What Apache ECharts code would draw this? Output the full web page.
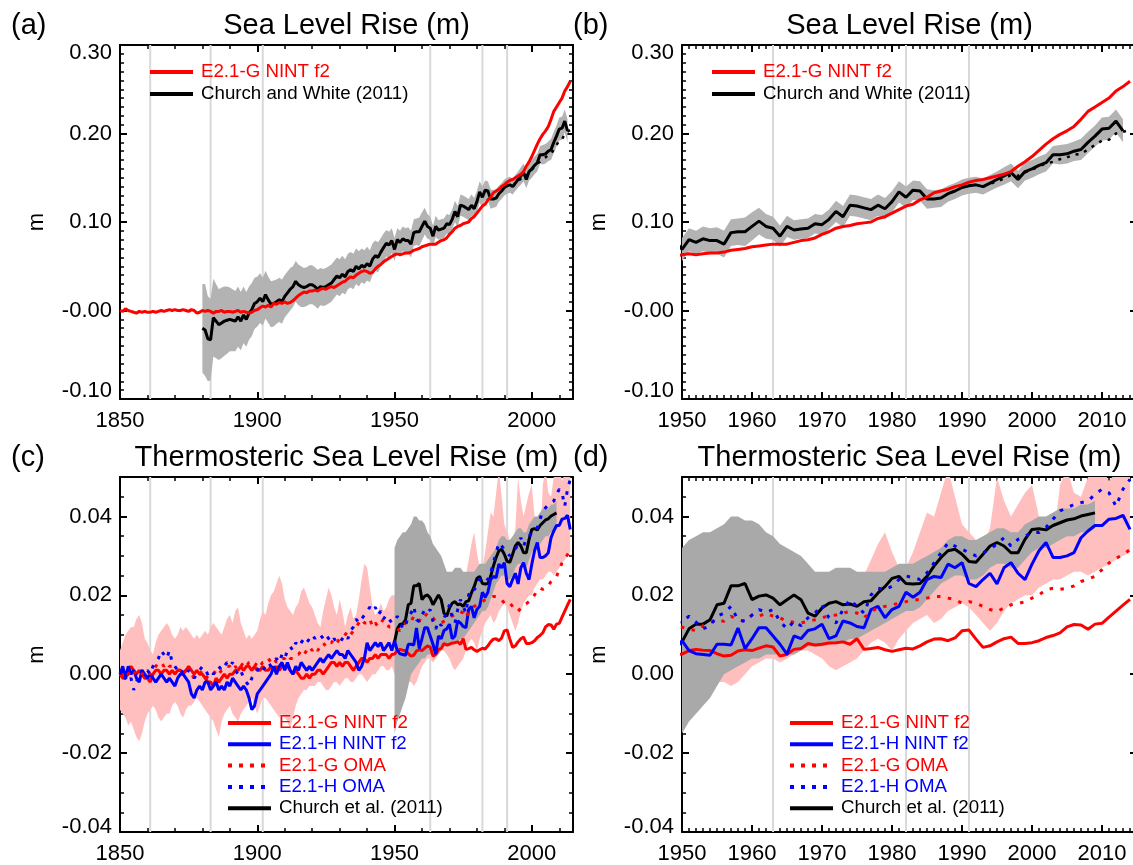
<!DOCTYPE html>
<html><head><meta charset="utf-8">
<script src="https://cdn.jsdelivr.net/npm/echarts@6/dist/echarts.min.js"></script>
<style>html,body{margin:0;padding:0;background:#fff}#c{width:1133px;height:865px}</style>
</head><body><div id="c"></div>
<script>
// ---------------- DATA ----------------
// Sea level, E2.1-G NINT f2, annual 1850-2014 (m)
const slModelStart = 1850;
const slModel = [
 0.000,-0.001,0.002,0.000,-0.001,-0.002,-0.003,-0.001,-0.002,-0.001,
 -0.002,-0.002,-0.001,-0.002,-0.001,0.000,-0.001,0.000,0.001,0.000,
 0.001,0.000,0.000,0.001,0.000,-0.001,0.001,0.000,-0.003,-0.002,
 0.000,-0.001,0.000,-0.001,-0.003,-0.001,-0.001,0.000,-0.002,-0.001,
 -0.001,-0.002,-0.001,0.000,-0.002,-0.001,-0.002,-0.003,-0.002,0.000,
 0.001,0.003,0.005,0.004,0.006,0.004,0.008,0.007,0.009,0.008,
 0.010,0.008,0.009,0.011,0.014,0.017,0.019,0.021,0.020,0.022,
 0.022,0.023,0.022,0.024,0.025,0.024,0.026,0.027,0.026,0.028,
 0.030,0.032,0.033,0.036,0.038,0.037,0.040,0.042,0.044,0.045,
 0.044,0.042,0.043,0.047,0.050,0.052,0.055,0.057,0.059,0.061,
 0.063,0.064,0.063,0.064,0.065,0.065,0.066,0.068,0.069,0.070,
 0.072,0.073,0.074,0.075,0.075,0.075,0.077,0.079,0.080,0.082,
 0.086,0.089,0.093,0.095,0.096,0.098,0.099,0.100,0.104,0.106,
 0.110,0.114,0.118,0.120,0.125,0.128,0.133,0.135,0.137,0.140,
 0.142,0.145,0.147,0.148,0.150,0.152,0.154,0.157,0.163,0.168,
 0.174,0.181,0.188,0.194,0.199,0.203,0.208,0.216,0.225,0.230,
 0.235,0.240,0.248,0.253,0.259
];
// Church and White (2011), annual 1880-2013 (m) and its uncertainty half-width
const slChurchStart = 1880;
const slChurch = [
 -0.020,-0.022,-0.032,-0.033,-0.008,-0.012,-0.016,-0.014,-0.012,-0.011,
 -0.010,-0.011,-0.012,-0.007,-0.012,-0.005,-0.010,-0.003,0.001,0.008,
 0.010,0.014,0.010,0.018,0.012,0.007,0.008,0.010,0.012,0.010,
 0.016,0.020,0.024,0.027,0.033,0.029,0.027,0.026,0.027,0.029,
 0.029,0.027,0.024,0.027,0.026,0.027,0.029,0.031,0.035,0.039,
 0.037,0.041,0.038,0.044,0.046,0.044,0.050,0.047,0.051,0.049,
 0.053,0.050,0.058,0.062,0.060,0.066,0.071,0.076,0.074,0.079,
 0.069,0.080,0.077,0.081,0.079,0.079,0.075,0.088,0.089,0.089,
 0.095,0.101,0.095,0.093,0.084,0.095,0.091,0.092,0.093,0.098,
 0.097,0.103,0.112,0.106,0.119,0.118,0.116,0.114,0.119,0.115,
 0.123,0.134,0.128,0.136,0.135,0.126,0.126,0.127,0.132,0.135,
 0.139,0.141,0.142,0.140,0.144,0.148,0.152,0.156,0.148,0.157,
 0.160,0.164,0.167,0.176,0.176,0.177,0.180,0.182,0.190,0.197,
 0.205,0.206,0.214,0.203
];
const slChurchErr = [
 0.050,0.052,0.048,0.046,0.044,0.042,0.040,0.040,0.039,0.038,
 0.036,0.035,0.034,0.034,0.033,0.032,0.031,0.030,0.030,0.029,
 0.028,0.028,0.027,0.027,0.026,0.026,0.026,0.025,0.025,0.025,
 0.024,0.024,0.024,0.023,0.023,0.023,0.023,0.022,0.022,0.022,
 0.022,0.022,0.022,0.021,0.021,0.021,0.021,0.021,0.021,0.021,
 0.021,0.021,0.020,0.020,0.020,0.020,0.020,0.020,0.019,0.019,
 0.019,0.018,0.018,0.017,0.017,0.016,0.016,0.015,0.015,0.014,
 0.013,0.013,0.013,0.014,0.014,0.015,0.015,0.015,0.015,0.016,
 0.016,0.015,0.014,0.013,0.012,0.012,0.011,0.011,0.011,0.011,
 0.011,0.011,0.012,0.012,0.012,0.012,0.012,0.012,0.012,0.012,
 0.012,0.012,0.012,0.011,0.011,0.011,0.010,0.010,0.009,0.009,
 0.009,0.009,0.009,0.009,0.009,0.009,0.010,0.010,0.010,0.010,
 0.010,0.010,0.010,0.010,0.011,0.011,0.011,0.012,0.012,0.012,
 0.013,0.013,0.013,0.013
];
// dotted black (altimetry era) 1993-2014
const slAltStart = 1993;
const slAlt = [0.140,0.143,0.146,0.149,0.153,0.152,0.156,0.159,0.163,0.166,0.168,
 0.171,0.173,0.176,0.177,0.182,0.187,0.192,0.193,0.200,0.202,0.204];

// Thermosteric sea level, annual 1850-2014 (m)
const thStart = 1850;
const thGNint = [
 0.000,-0.001,-0.001,0.001,0.002,0.001,0.000,0.001,0.000,-0.001,
 -0.001,-0.002,0.000,0.001,0.001,0.000,0.001,0.001,0.000,0.001,
 0.000,0.001,0.001,0.000,0.001,0.002,0.001,0.000,0.001,0.000,
 0.000,-0.001,-0.002,-0.002,-0.003,-0.001,-0.002,-0.001,0.000,-0.001,
 0.000,0.000,0.001,0.001,0.002,0.001,0.002,0.002,0.001,0.002,
 0.001,0.001,0.002,0.001,0.001,0.002,0.001,0.002,0.001,0.002,
 0.002,0.002,0.001,0.000,0.001,0.000,-0.001,-0.001,0.000,-0.001,
 0.000,0.000,0.001,0.001,0.000,0.001,0.002,0.003,0.003,0.002,
 0.003,0.002,0.003,0.003,0.002,0.001,0.002,0.003,0.004,0.004,
 0.003,0.004,0.004,0.005,0.004,0.005,0.005,0.005,0.004,0.005,
 0.0051,0.006,0.0063,0.0061,0.006,0.0052,0.0046,0.0048,0.0059,0.0062,
 0.006,0.0066,0.0072,0.0069,0.0046,0.005,0.0063,0.0065,0.0078,0.0074,
 0.0076,0.0079,0.008,0.0082,0.0076,0.009,0.0063,0.0065,0.0068,0.0062,
 0.0058,0.0062,0.0066,0.0064,0.0072,0.0082,0.0089,0.009,0.0085,0.0092,
 0.011,0.0112,0.0089,0.0068,0.0072,0.0082,0.009,0.0094,0.0078,0.0078,
 0.008,0.0085,0.0093,0.0098,0.0105,0.012,0.0126,0.0125,0.0114,0.0127,
 0.0129,0.0145,0.016,0.0175,0.019
];
const thHNint = [
 0.000,0.002,-0.001,0.002,0.000,0.001,-0.001,-0.002,0.001,0.000,
 -0.001,0.000,-0.001,-0.002,-0.001,0.000,-0.001,-0.002,-0.001,-0.002,
 -0.003,-0.001,0.000,0.000,-0.001,-0.002,-0.005,-0.006,-0.004,-0.003,
 -0.004,-0.002,-0.002,-0.004,-0.003,-0.002,-0.004,-0.003,-0.004,-0.002,
 -0.003,-0.001,-0.002,-0.003,-0.004,-0.003,-0.004,-0.006,-0.009,-0.008,
 -0.005,-0.004,-0.003,-0.002,-0.001,0.000,0.002,0.000,0.002,0.003,
 0.001,0.003,0.001,0.000,0.002,0.001,0.003,0.002,0.001,0.002,
 0.001,0.002,0.003,0.004,0.003,0.004,0.005,0.004,0.005,0.006,
 0.005,0.005,0.004,0.006,0.005,0.004,0.003,0.001,0.002,0.004,
 0.008,0.006,0.007,0.008,0.007,0.008,0.006,0.007,0.008,0.006,
 0.0085,0.006,0.0052,0.005,0.0048,0.0076,0.0076,0.0074,0.0117,0.0065,
 0.009,0.0118,0.0118,0.0097,0.0076,0.0051,0.0097,0.009,0.0111,0.0115,
 0.0127,0.009,0.0097,0.0135,0.013,0.0121,0.0118,0.0164,0.0172,0.0143,
 0.0164,0.0172,0.0208,0.0195,0.0208,0.024,0.0248,0.0245,0.0279,0.027,
 0.0283,0.023,0.0222,0.024,0.0256,0.0229,0.027,0.0283,0.0256,0.024,
 0.0279,0.0313,0.0334,0.0296,0.0296,0.03,0.0308,0.0346,0.0363,0.0377,
 0.0377,0.0393,0.0395,0.0403,0.0367
];
const thGOma = [
 0.000,0.000,-0.001,0.000,0.001,0.000,0.001,0.001,0.000,0.001,
 0.001,0.000,0.001,0.002,0.003,0.003,0.002,0.003,0.002,0.002,
 0.002,0.001,0.001,0.000,0.001,0.000,0.000,-0.001,0.000,0.000,
 0.001,0.000,-0.001,-0.001,0.000,0.001,0.000,0.001,0.001,0.002,
 0.002,0.001,0.002,0.001,0.002,0.003,0.002,0.003,0.003,0.002,
 0.003,0.002,0.003,0.003,0.004,0.003,0.004,0.003,0.004,0.004,
 0.004,0.005,0.004,0.004,0.005,0.005,0.006,0.005,0.006,0.007,
 0.006,0.007,0.006,0.007,0.008,0.007,0.008,0.008,0.009,0.008,
 0.009,0.009,0.010,0.011,0.010,0.011,0.012,0.013,0.014,0.013,
 0.013,0.014,0.012,0.013,0.012,0.013,0.014,0.013,0.012,0.012,
 0.0119,0.0115,0.011,0.0123,0.013,0.0138,0.0134,0.0147,0.0138,0.0134,
 0.015,0.0147,0.0155,0.0147,0.0143,0.0134,0.0132,0.013,0.0134,0.0138,
 0.0143,0.0148,0.015,0.0155,0.0159,0.0155,0.0143,0.0159,0.0168,0.0172,
 0.0176,0.018,0.0184,0.0189,0.0189,0.0193,0.0197,0.0197,0.0193,0.0189,
 0.018,0.0184,0.018,0.0172,0.0164,0.0159,0.0168,0.0176,0.0179,0.0184,
 0.0193,0.0201,0.0214,0.0218,0.0215,0.0218,0.0224,0.0235,0.0241,0.0248,
 0.0265,0.0282,0.0294,0.0303,0.0316
];
const thHOma = [
 0.000,0.001,-0.001,-0.002,-0.001,-0.004,-0.002,0.000,0.001,0.000,
 0.001,0.000,0.002,0.003,0.004,0.006,0.005,0.004,0.006,0.003,
 0.002,0.001,0.000,0.001,0.000,0.001,0.000,-0.001,0.000,0.001,
 0.002,0.001,0.000,0.001,0.000,0.001,0.002,0.001,0.002,0.003,
 0.002,0.003,0.001,0.000,0.001,-0.001,-0.002,-0.003,-0.001,0.000,
 0.001,0.002,0.001,0.002,0.003,0.002,0.003,0.004,0.003,0.005,
 0.004,0.006,0.007,0.006,0.008,0.007,0.008,0.009,0.008,0.009,
 0.010,0.009,0.010,0.010,0.009,0.010,0.009,0.008,0.009,0.008,
 0.008,0.009,0.010,0.009,0.011,0.012,0.014,0.013,0.014,0.015,
 0.016,0.017,0.016,0.017,0.015,0.016,0.014,0.015,0.014,0.013,
 0.0134,0.0147,0.0132,0.0115,0.0123,0.0147,0.0155,0.0172,0.0138,0.0134,
 0.015,0.0164,0.0157,0.0164,0.0134,0.0115,0.0134,0.0123,0.0143,0.0155,
 0.0176,0.0143,0.013,0.0164,0.0189,0.0172,0.0155,0.0201,0.0218,0.0214,
 0.0223,0.024,0.0249,0.0245,0.024,0.0257,0.0282,0.0308,0.0333,0.0325,
 0.0317,0.0308,0.03,0.0308,0.0317,0.033,0.0346,0.0325,0.0342,0.035,
 0.0359,0.0359,0.0372,0.0393,0.0414,0.0422,0.043,0.0435,0.0439,0.0456,
 0.0469,0.046,0.0426,0.0469,0.0494
];
// model spread (pink band) 1850-2014
const thSpreadHi = [
 0.006,0.008,0.010,0.011,0.012,0.012,0.014,0.015,0.013,0.009,
 0.008,0.006,0.005,0.008,0.010,0.011,0.012,0.013,0.012,0.010,
 0.009,0.010,0.012,0.011,0.012,0.011,0.010,0.009,0.010,0.009,
 0.010,0.011,0.010,0.012,0.013,0.012,0.011,0.010,0.012,0.014,
 0.015,0.013,0.016,0.017,0.013,0.011,0.009,0.010,0.009,0.010,
 0.011,0.014,0.016,0.015,0.018,0.020,0.021,0.023,0.025,0.023,
 0.019,0.017,0.016,0.015,0.017,0.018,0.021,0.022,0.020,0.018,
 0.017,0.015,0.013,0.012,0.016,0.019,0.022,0.020,0.017,0.015,
 0.019,0.016,0.012,0.015,0.017,0.014,0.015,0.019,0.024,0.028,
 0.027,0.022,0.017,0.015,0.016,0.018,0.016,0.017,0.019,0.020,
 0.020,0.021,0.022,0.022,0.023,0.022,0.024,0.025,0.024,0.025,
 0.025,0.023,0.022,0.021,0.020,0.021,0.023,0.025,0.027,0.026,
 0.024,0.022,0.021,0.022,0.023,0.024,0.025,0.029,0.033,0.036,
 0.031,0.027,0.027,0.031,0.036,0.041,0.040,0.046,0.052,0.045,
 0.038,0.036,0.034,0.033,0.037,0.050,0.044,0.040,0.043,0.046,
 0.048,0.040,0.035,0.033,0.048,0.052,0.046,0.045,0.050,0.053,
 0.052,0.049,0.051,0.054,0.052
];
const thSpreadLo = [
 -0.009,-0.010,-0.011,-0.013,-0.012,-0.014,-0.016,-0.017,-0.015,-0.012,
 -0.010,-0.009,-0.008,-0.009,-0.011,-0.012,-0.011,-0.010,-0.010,-0.008,
 -0.007,-0.008,-0.010,-0.011,-0.009,-0.008,-0.008,-0.007,-0.006,-0.007,
 -0.008,-0.009,-0.010,-0.011,-0.012,-0.014,-0.016,-0.012,-0.010,-0.009,
 -0.008,-0.010,-0.011,-0.012,-0.010,-0.009,-0.008,-0.007,-0.006,-0.008,
 -0.010,-0.008,-0.006,-0.006,-0.007,-0.008,-0.009,-0.010,-0.011,-0.010,
 -0.011,-0.012,-0.014,-0.011,-0.008,-0.006,-0.005,-0.004,-0.004,-0.003,
 -0.003,-0.003,-0.002,-0.002,-0.003,-0.004,-0.004,-0.003,-0.002,-0.002,
 -0.003,-0.002,-0.001,-0.001,-0.002,-0.002,-0.001,0.000,0.000,-0.001,
 -0.002,-0.001,0.000,0.000,0.001,0.002,0.002,0.001,0.001,0.002,
 0.000,-0.001,-0.002,-0.002,-0.002,-0.002,-0.002,-0.003,-0.002,0.000,
 0.002,0.003,0.004,0.004,0.003,0.004,0.005,0.006,0.006,0.005,
 0.004,0.002,0.001,0.002,0.003,0.004,0.006,0.008,0.009,0.008,
 0.006,0.009,0.011,0.013,0.014,0.015,0.013,0.014,0.016,0.017,
 0.018,0.017,0.015,0.013,0.011,0.013,0.016,0.018,0.019,0.020,
 0.020,0.022,0.023,0.024,0.024,0.025,0.026,0.026,0.025,0.026,
 0.027,0.028,0.029,0.030,0.031
];
// Church et al. (2011) thermosteric 1950-2009 with band
const thChurchStart = 1950;
const thChurch = [
 0.0082,0.0115,0.0127,0.0127,0.0138,0.0176,0.018,0.0224,0.0224,0.023,
 0.0189,0.0198,0.0201,0.0193,0.0176,0.0189,0.0201,0.0189,0.0155,0.0147,
 0.0168,0.018,0.0184,0.0176,0.0178,0.0172,0.0184,0.0186,0.0206,0.0222,
 0.0243,0.0248,0.023,0.0229,0.023,0.0248,0.0274,0.0296,0.0313,0.0317,
 0.0304,0.0286,0.0284,0.0304,0.0325,0.0334,0.0325,0.0308,0.0308,0.0342,
 0.0367,0.0369,0.0366,0.0377,0.0384,0.0391,0.0394,0.0401,0.0405,0.0409
];
const thChurchHi = [
 0.032,0.034,0.035,0.036,0.036,0.037,0.038,0.040,0.040,0.039,
 0.039,0.038,0.036,0.035,0.033,0.032,0.031,0.030,0.028,0.026,
 0.026,0.026,0.027,0.027,0.027,0.026,0.026,0.026,0.026,0.026,
 0.027,0.028,0.028,0.028,0.029,0.030,0.031,0.032,0.034,0.035,
 0.035,0.034,0.034,0.035,0.036,0.037,0.037,0.036,0.036,0.038,
 0.039,0.040,0.040,0.041,0.042,0.042,0.042,0.043,0.043,0.044
];
const thChurchLo = [
 -0.015,-0.012,-0.010,-0.008,-0.006,-0.003,0.000,0.001,0.002,0.003,
 0.004,0.004,0.005,0.005,0.005,0.005,0.005,0.006,0.007,0.007,
 0.007,0.008,0.008,0.008,0.009,0.009,0.010,0.011,0.012,0.013,
 0.014,0.015,0.016,0.016,0.017,0.019,0.021,0.023,0.024,0.025,
 0.025,0.024,0.024,0.025,0.027,0.028,0.028,0.027,0.027,0.029,
 0.031,0.032,0.032,0.033,0.034,0.035,0.035,0.036,0.036,0.037
];
// volcanic eruption years (light grey verticals)
const volcanoYears = [1861, 1883, 1902, 1963, 1982, 1991];
// tick labels
const slYLabels = ['-0.10', '-0.00', '0.10', '0.20', '0.30'];
const thYLabels = ['-0.04', '-0.02', '0.00', '0.02', '0.04'];
const xLabelsLong = ['1850', '1900', '1950', '2000'];
const xLabelsShort = ['1950', '1960', '1970', '1980', '1990', '2000', '2010'];
const titles = ['Sea Level Rise (m)', 'Sea Level Rise (m)', 'Thermosteric Sea Level Rise (m)', 'Thermosteric Sea Level Rise (m)'];
const panelTags = ['(a)', '(b)', '(c)', '(d)'];
const legendSL = [
  {name: 'E2.1-G NINT f2', color: '#ff0000', dash: null},
  {name: 'Church and White (2011)', color: '#000000', dash: null}
];
const legendTH = [
  {name: 'E2.1-G NINT f2', color: '#ff0000', dash: null},
  {name: 'E2.1-H NINT f2', color: '#0000ff', dash: null},
  {name: 'E2.1-G OMA', color: '#ff0000', dash: [4, 7]},
  {name: 'E2.1-H OMA', color: '#0000ff', dash: [4, 7]},
  {name: 'Church et al. (2011)', color: '#000000', dash: null}
];

// ---------------- CHART ----------------
const FONT = 'Liberation Sans, Arial, Helvetica, sans-serif';
const toPairs = (start, arr) => arr.map((v, i) => [start + i, v]);

const panels = [
  {grid: {left: 120, top: 45, width: 453, height: 354}, xmin: 1850, xmax: 2015, xint: 50, xminor: 5, xlabels: xLabelsLong,
   ymin: -0.1, ymax: 0.3, yint: 0.1, yminor: 10, ylabels: slYLabels, topPad: 16, botPad: 16, kind: 'sl'},
  {grid: {left: 682, top: 45, width: 455, height: 354}, xmin: 1950, xmax: 2015, xint: 10, xminor: 10, xlabels: xLabelsShort,
   ymin: -0.1, ymax: 0.3, yint: 0.1, yminor: 10, ylabels: slYLabels, topPad: 16, botPad: 16, kind: 'sl'},
  {grid: {left: 120, top: 477, width: 453, height: 355}, xmin: 1850, xmax: 2015, xint: 50, xminor: 5, xlabels: xLabelsLong,
   ymin: -0.04, ymax: 0.05, yint: 0.02, yminor: 4, ylabels: thYLabels, topPad: 0, botPad: 10, kind: 'th'},
  {grid: {left: 682, top: 477, width: 455, height: 355}, xmin: 1950, xmax: 2015, xint: 10, xminor: 10, xlabels: xLabelsShort,
   ymin: -0.04, ymax: 0.05, yint: 0.02, yminor: 4, ylabels: thYLabels, topPad: 0, botPad: 10, kind: 'th'}
];

function labelAt(v, min, interval, arr) {
  const idx = Math.round((v - min) / interval);
  if (Math.abs(min + idx * interval - v) > interval * 1e-6) return '';
  return arr[idx] !== undefined ? arr[idx] : '';
}

const grids = [], xAxes = [], yAxes = [], series = [], graphics = [];
const axisLineStyle = {color: '#000', width: 2};

panels.forEach((p, g) => {
  grids.push(Object.assign({outerBoundsMode: 'none', containLabel: false}, p.grid));
  ['bottom', 'top'].forEach((pos, k) => {
    xAxes.push({
      type: 'value', gridIndex: g, position: pos, min: p.xmin, max: p.xmax, interval: p.xint,
      axisLine: {show: true, onZero: false, lineStyle: axisLineStyle},
      axisTick: {show: true, inside: true, length: 7, lineStyle: {color: '#000', width: 2}},
      minorTick: {show: true, splitNumber: p.xminor, length: 4, lineStyle: {color: '#000', width: 1.5}},
      splitLine: {show: false}, minorSplitLine: {show: false},
      axisLabel: {show: k === 0, color: '#000', fontSize: 22, fontFamily: FONT, margin: 11,
        showMinLabel: true, showMaxLabel: true, hideOverlap: false,
        formatter: v => labelAt(v, p.xmin, p.xint, p.xlabels)}
    });
  });
  ['left', 'right'].forEach((pos, k) => {
    yAxes.push({
      type: 'value', gridIndex: g, position: pos, min: p.ymin, max: p.ymax, interval: p.yint,
      axisLine: {show: true, onZero: false, lineStyle: axisLineStyle},
      axisTick: {show: true, inside: true, length: 7, lineStyle: {color: '#000', width: 2}},
      minorTick: {show: true, splitNumber: p.yminor, length: 4, lineStyle: {color: '#000', width: 1.5}},
      splitLine: {show: false}, minorSplitLine: {show: false},
      axisLabel: {show: k === 0, color: '#000', fontSize: 22, fontFamily: FONT, margin: 8,
        showMinLabel: true, showMaxLabel: true, hideOverlap: false,
        formatter: v => {
          const s = labelAt(v, p.ymin, p.yint, p.ylabels);
          if (!s) return '';
          const idx = Math.round((v - p.ymin) / p.yint);
          if (idx === 0 && p.botPad) return '{b|' + s + '}';
          if (Math.abs(v - p.ymax) < 1e-9 && p.topPad) return '{t|' + s + '}';
          return s;
        },
        rich: {
          t: {fontSize: 22, fontFamily: FONT, color: '#000', padding: [p.topPad, 0, 0, 0]},
          b: {fontSize: 22, fontFamily: FONT, color: '#000', padding: [0, 0, p.botPad, 0]}
        }}
    });
  });
  const xi = 2 * g, yi = 2 * g;
  // volcano verticals
  series.push({
    type: 'custom', xAxisIndex: xi, yAxisIndex: yi, silent: true, clip: true, z: 1,
    data: volcanoYears.filter(y => y > p.xmin && y < p.xmax).map(y => [y, p.ymin]),
    encode: {x: 0, y: 1},
    renderItem: (params, api) => {
      const yr = api.value(0);
      const a = api.coord([yr, p.ymin]), b = api.coord([yr, p.ymax]);
      return {type: 'line', shape: {x1: a[0], y1: a[1], x2: b[0], y2: b[1]}, style: {stroke: '#d9d9d9', lineWidth: 2}};
    }
  });
  const band = (start, lo, hi, color) => ({
    type: 'custom', xAxisIndex: xi, yAxisIndex: yi, silent: true, clip: true, z: 2,
    data: [[start, lo[0]]], encode: {x: 0, y: 1},
    renderItem: (params, api) => {
      const pts = [];
      for (let i = 0; i < hi.length; i++) pts.push(api.coord([start + i, hi[i]]));
      for (let i = lo.length - 1; i >= 0; i--) pts.push(api.coord([start + i, lo[i]]));
      return {type: 'polygon', shape: {points: pts}, style: {fill: color}};
    }
  });
  const line = (start, arr, color, dash, w) => ({
    type: 'line', xAxisIndex: xi, yAxisIndex: yi, silent: true, clip: true, z: 3,
    showSymbol: false, symbol: 'none', animation: false,
    data: toPairs(start, arr),
    lineStyle: {color: color, width: w || 3, type: dash || 'solid'}
  });
  if (p.kind === 'sl') {
    const lo = slChurch.map((v, i) => v - slChurchErr[i]);
    const hi = slChurch.map((v, i) => v + slChurchErr[i]);
    series.push(band(slChurchStart, lo, hi, '#b3b3b3'));
    series.push(line(slAltStart, slAlt, '#000', [3, 6], 2.5));
    series.push(line(slChurchStart, slChurch, '#000'));
    series.push(line(slModelStart, slModel, '#ff0000'));
  } else {
    series.push(band(thStart, thSpreadLo, thSpreadHi, '#ffbfbf'));
    series.push(band(thChurchStart, thChurchLo, thChurchHi, '#a9a9a9'));
    series.push(line(thChurchStart, thChurch, '#000'));
    series.push(line(thStart, thGNint, '#ff0000'));
    series.push(line(thStart, thHNint, '#0000ff'));
    series.push(line(thStart, thGOma, '#ff0000', [3.5, 7.5]));
    series.push(line(thStart, thHOma, '#0000ff', [3.5, 7.5]));
  }

  // titles & tags
  const gr = p.grid;
  const ty = gr.top - 19;
  graphics.push({type: 'text', z: 100, x: gr.left + gr.width / 2, y: ty, silent: true,
    style: {text: titles[g], fill: '#000', fontSize: 29, fontFamily: FONT, align: 'center', verticalAlign: 'middle', textAlign: 'center', textVerticalAlign: 'middle'}});
  graphics.push({type: 'text', z: 100, x: gr.left - 109, y: ty, silent: true,
    style: {text: panelTags[g], fill: '#000', fontSize: 29, fontFamily: FONT, align: 'left', verticalAlign: 'middle', textAlign: 'left', textVerticalAlign: 'middle'}});
  // y-axis name
  graphics.push({type: 'text', z: 100, x: gr.left - 83, y: gr.top + gr.height / 2, rotation: Math.PI / 2, silent: true,
    style: {text: 'm', fill: '#000', fontSize: 22, fontFamily: FONT, align: 'center', verticalAlign: 'middle', textAlign: 'center', textVerticalAlign: 'middle'}});
  // legend
  const items = p.kind === 'sl' ? legendSL : legendTH;
  const lx = p.kind === 'sl' ? gr.left + 30 : gr.left + 108;
  const ly0 = p.kind === 'sl' ? gr.top + 27 : gr.top + 246;
  const step = p.kind === 'sl' ? 22 : 21.3;
  items.forEach((it, i) => {
    const y = ly0 + i * step;
    graphics.push({type: 'line', z: 100, silent: true, shape: {x1: lx, y1: y, x2: lx + 43, y2: y},
      style: {stroke: it.color, lineWidth: 4, lineDash: it.dash || null}});
    graphics.push({type: 'text', z: 100, x: lx + 51, y: y, silent: true,
      style: {text: it.name, fill: it.color, fontSize: 18.7, fontFamily: FONT, align: 'left', verticalAlign: 'middle', textAlign: 'left', textVerticalAlign: 'middle'}});
  });
});

const chart = echarts.init(document.getElementById('c'), null, {renderer: 'canvas'});
chart.setOption({
  backgroundColor: '#fff',
  animation: false,
  grid: grids,
  xAxis: xAxes,
  yAxis: yAxes,
  series: series,
  graphic: graphics
});
</script>
</body></html>
